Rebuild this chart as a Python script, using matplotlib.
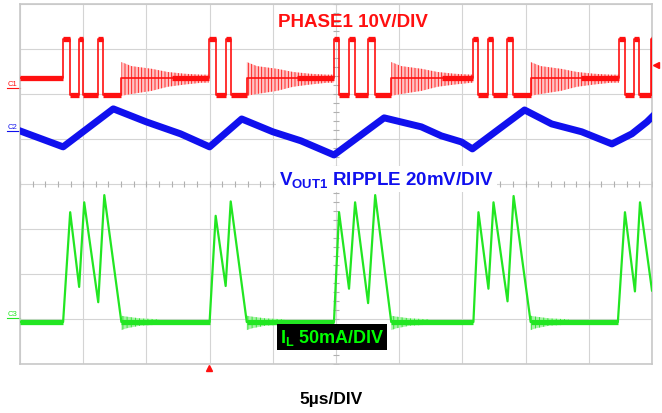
import matplotlib
matplotlib.use("Agg")
import numpy as np
from matplotlib import pyplot as plt

plt.rcParams['font.family'] = ['Liberation Sans', 'DejaVu Sans']
plt.rcParams['mathtext.fontset'] = 'custom'
plt.rcParams['mathtext.bf'] = 'Liberation Sans:bold'
plt.rcParams['mathtext.rm'] = 'Liberation Sans'
plt.rcParams['hatch.linewidth'] = 0.6

# time base: 5 us/div, 10 div ; vertical: 8 div
# PHASE1 (V), 10 V/div
v_hi = 12.4
v_lo = 0.0
v_mid = 3.8
pulse_on = [[3.41, 4.68, 6.19], [14.92, 16.27], [24.84, 26.03, 27.54],
            [35.87, 37.06, 38.49], [47.38, 48.57, 49.92]]
pulse_off = [[3.97, 5.00, 6.59], [15.48, 16.67], [25.24, 26.51, 28.06],
             [36.27, 37.46, 38.97], [47.86, 48.97, 50.0]]
ring_start = [8.02, 17.94, 29.37, 40.40]
# ringing envelope after the inductor current reaches zero
ring_dt = [0.0, 0.8, 2.4, 3.65, 5.0, 6.35]
ring_hi = [7.3, 6.4, 5.8, 5.1, 4.7, 4.5]
ring_lo = [-0.2, 0.2, 0.9, 1.8, 2.3, 2.7]

# VOUT1 ripple (mV), 20 mV/div
vout_t = [0, 3.41, 7.38, 10.0, 12.70, 15.0, 17.54, 20.0, 22.22, 24.84, 28.81,
          31.75, 33.33, 34.92, 35.79, 39.92, 42.06, 44.44, 46.83, 48.41, 49.60, 50.0]
vout_mv = [0, -7.1, 9.8, 4.0, -1.3, -7.1, 5.3, -0.4, -4.4, -10.7, 5.8,
           1.8, -2.2, -4.9, -8.0, 9.3, 3.1, -0.4, -5.8, -1.3, 4.0, 6.2]

# IL (mA), 50 mA/div
il_t = [0, 3.41, 3.97, 4.68, 5.08, 6.19, 6.67, 8.02,
        15.0, 15.48, 16.27, 16.67, 17.94,
        24.84, 25.24, 26.03, 26.51, 27.54, 28.10, 29.37,
        35.87, 36.27, 37.06, 37.46, 38.57, 39.05, 40.40,
        47.30, 47.86, 48.65, 49.05, 50.0]
il_ma = [0, 0, 122, 39, 133, 22, 141, 0,
         0, 118, 40, 134, 0,
         0, 122, 37, 133, 21, 141, 0,
         0, 122, 37, 133, 23, 140, 0,
         0, 122, 34, 133, 35]
il_ring_dt = [0.0, 0.4, 1.5, 3.0]
il_ring_hi = [7, 6, 4, 3]
il_ring_lo = [-9, -7, -4, -3]

# channel offsets (div) and scales
red_off, red_scale = 1.98, 10.0
blue_off, blue_scale = 1.18, 20.0
green_off, green_scale = -3.067, 50.0

RED = '#ff1010'
BLUE = '#1010ee'
GREEN = '#22e622'

fig = plt.figure(figsize=(6.62, 4.14), dpi=100)
ax = fig.add_axes([20 / 662, 1 - 365 / 414, 632 / 662, 360 / 414])
ax.set_xlim(0, 50)
ax.set_ylim(-4, 4)
ax.set_xticks(np.arange(0, 51, 5))
ax.set_yticks(np.arange(-4, 5, 1))
ax.tick_params(length=0, labelbottom=False, labelleft=False)
ax.grid(True, color='#d4d4d4', lw=0.8)
for s in ax.spines.values():
    s.set_color('#c8c8c8')
    s.set_linewidth(1.2)
# center line ticks
ax.plot(np.arange(0, 50.1, 1), np.zeros(51), ls='none', marker='|', ms=4, color='#b0b0b0', mew=0.8)
ax.plot(np.full(41, 25.0), np.arange(-4, 4.01, 0.2), ls='none', marker='_', ms=4, color='#b0b0b0', mew=0.8)


def rv(v):
    return red_off + np.asarray(v, dtype=float) / red_scale


# red PHASE1 trace
rt, rvv = [0.0], [v_mid]
flat = [(0.0, pulse_on[0][0], v_mid)]
for b in range(len(pulse_on)):
    for i in range(len(pulse_on[b])):
        on, off = pulse_on[b][i], pulse_off[b][i]
        rt += [on, on, off, off]
        rvv += [rvv[-1], v_hi, v_hi, v_lo]
        flat.append((on, off, v_hi))
        if i + 1 < len(pulse_on[b]):
            flat.append((off, pulse_on[b][i + 1], v_lo))
    if b < len(ring_start):
        rs = ring_start[b]
        nxt = pulse_on[b + 1][0]
        rt += [rs, rs, nxt]
        rvv += [v_lo, v_mid, v_mid]
        flat.append((pulse_off[b][-1], rs, v_lo))
        flat.append((rs + 4.0, nxt, v_mid))
        et = [rs + d for d in ring_dt] + [nxt]
        ax.fill_between(et, rv(ring_lo + [ring_lo[-1]]), rv(ring_hi + [ring_hi[-1]]),
                        facecolor='#ffc4c4', edgecolor=RED, hatch='|||||', lw=0, zorder=3)
ax.plot(rt, rv(rvv), color=RED, lw=1.2, zorder=4)
fx0, fx1, fy = zip(*flat)
ax.hlines(rv(fy), fx0, fx1, color=RED, lw=3.8, zorder=4)

# blue VOUT1 ripple
ax.plot(vout_t, blue_off + np.array(vout_mv) / blue_scale, color=BLUE, lw=5.0,
        solid_joinstyle='round', zorder=4)

# green IL
gy = green_off + np.array(il_ma) / green_scale
ax.plot(il_t, gy, color=GREEN, lw=1.6, zorder=4)
base_from = [0.0] + ring_start
base_to = [3.41, 15.0, 24.84, 35.87, 47.30]
ax.hlines(np.full(5, green_off), base_from, base_to, color=GREEN, lw=3.8, zorder=4)
for rs in ring_start:
    et = [rs + d for d in il_ring_dt]
    ax.fill_between(et, green_off + np.array(il_ring_lo) / green_scale,
                    green_off + np.array(il_ring_hi) / green_scale,
                    facecolor='#a8f0a8', edgecolor=GREEN, hatch='||||', lw=0, zorder=3)

# channel markers
ax.text(-0.6, 2.16, 'C1', color=RED, fontsize=5.5, ha='center', va='bottom', clip_on=False)
ax.plot([-1.0, 0], [2.14, 2.14], color=RED, lw=0.8, clip_on=False)
ax.text(-0.6, 1.20, 'C2', color=BLUE, fontsize=5.5, ha='center', va='bottom', clip_on=False)
ax.plot([-1.0, 0], [1.18, 1.18], color=BLUE, lw=0.8, clip_on=False)
ax.text(-0.6, -2.95, 'C3', color=GREEN, fontsize=5.5, ha='center', va='bottom', clip_on=False)
ax.plot([-1.0, 0], [-2.98, -2.98], color=GREEN, lw=0.8, clip_on=False)

# trigger markers
ax.plot([50.3], [2.64], marker='<', color=RED, ms=5, clip_on=False)
ax.plot([14.92], [-4.08], marker='^', color=RED, ms=5, clip_on=False)

# annotations
ax.text(20.4, 3.62, 'PHASE1 10V/DIV', color=RED, fontsize=13.5, fontweight='bold',
        ha='left', va='center', zorder=6)
ax.text(20.5, 0.0, r'$\mathbf{V_{OUT1}}$ RIPPLE 20mV/DIV', color=BLUE, fontsize=13.5,
        fontweight='bold', ha='left', va='baseline', zorder=6,
        bbox=dict(facecolor='white', edgecolor='none', pad=2))
ax.text(24.7, -3.4, r'$\mathbf{I_L}$ 50mA/DIV', color='#00ff00', fontsize=13,
        fontweight='bold', ha='center', va='center', zorder=6,
        bbox=dict(facecolor='black', edgecolor='none', pad=2))

fig.text(331 / 662, 1 - 400 / 414, '5µs/DIV', color='black', fontsize=12.5,
         fontweight='bold', ha='center', va='center')

fig.savefig('out.png', dpi=100)
